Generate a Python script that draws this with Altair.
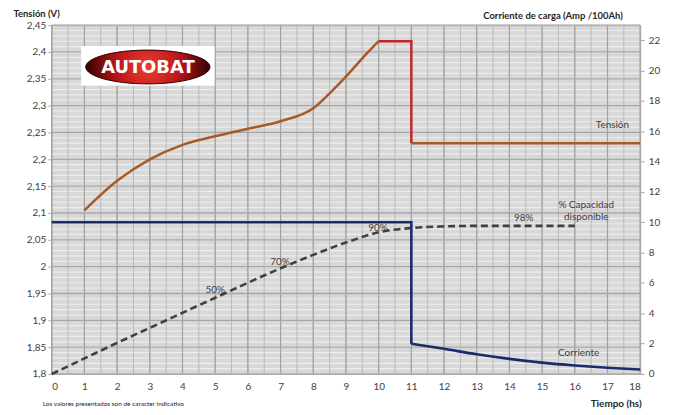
import altair as alt
import pandas as pd

# ---- data ----
hours_t = [1, 2, 3, 4, 5, 6, 7, 8, 8.5, 9, 9.5, 10]
tension = [2.105, 2.160, 2.200, 2.227, 2.243, 2.257, 2.271, 2.295, 2.323, 2.354, 2.388, 2.42]
hours_abs = [10, 11, 11]
tension_abs = [2.42, 2.42, 2.23]
hours_float = [11, 18]
tension_float = [2.23, 2.23]

hours_cur = [0, 11, 11]
current_const = [10, 10, 2.0]
hours_dec = [11, 12, 13, 14, 15, 16, 17, 18]
current_dec = [2.0, 1.66, 1.30, 1.00, 0.75, 0.56, 0.41, 0.30]

hours_cap = [0, 1, 2, 3, 4, 5, 6, 7, 8, 9, 10, 11, 12, 13, 16]
capacity_v = [1.800, 1.829, 1.858, 1.886, 1.914, 1.942, 1.970, 1.997, 2.022,
              2.045, 2.064, 2.072, 2.075, 2.076, 2.076]

cap_labels = ["50%", "70%", "90%", "98%", "% Capacidad", "disponible", "Tensión"]
cap_label_h = [5.0, 6.98, 9.98, 14.44, 16.35, 16.35, 17.15]
cap_label_v = [1.956, 2.009, 2.072, 2.091, 2.115, 2.092, 2.263]

cur_labels = ["Corriente"]
cur_label_h = [16.12]
cur_label_i = [1.36]

x_ticks = list(range(0, 19))
v_major = [round(1.8 + 0.05 * k, 2) for k in range(14)]
v_minor = [round(1.8 + 0.01 * k, 2) for k in range(66)]
i_ticks = list(range(0, 23, 2))
h_half = [k * 0.5 for k in range(37)]
h_int = list(range(0, 19))

logo_text = ["AUTOBAT"]
logo_box_h = [0.90, 4.98]
logo_box_v = [2.337, 2.411]
logo_center = [2.94, 2.372]

note_text = ["Los valores presentados son de caracter indicativo"]

# ---- scales / axes ----
xscale = alt.Scale(domain=[0, 18], nice=False, zero=False)
vscale = alt.Scale(domain=[1.8, 2.45], nice=False, zero=False)
iscale = alt.Scale(domain=[0, 23], nice=False, zero=False)

xaxis = alt.Axis(values=x_ticks, grid=False, ticks=False, domain=False,
                 labelPadding=8, labelFontSize=10, labelColor="#404040",
                 title="Tiempo (hs)", titleFontSize=10, titleFontWeight="bold",
                 titleColor="#262626", titleAlign="right", titleX=593, titleY=30,
                 titleBaseline="middle")
vaxis = alt.Axis(values=v_major, grid=False, domain=False, tickSize=4,
                 tickColor="#a6a6a6", labelPadding=2, labelFontSize=10,
                 labelColor="#404040",
                 labelExpr="replace(format(datum.value, '.2~f'), '.', ',')",
                 title="Tensión (V)", titleAngle=0, titleAlign="left",
                 titleBaseline="alphabetic", titleX=-39, titleY=-8.5,
                 titleFontSize=9.5, titleFontWeight="bold", titleColor="#262626")
iaxis = alt.Axis(values=i_ticks, orient="right", grid=False, domain=False,
                 tickSize=4, tickColor="#a6a6a6", labelPadding=4,
                 labelFontSize=10, labelColor="#404040",
                 title="Corriente de carga (Amp /100Ah)", titleAngle=0,
                 titleAlign="right", titleBaseline="alphabetic", titleX=-18,
                 titleY=-7, titleFontSize=9.5, titleFontWeight="bold",
                 titleColor="#262626")

X = alt.X("h:Q", scale=xscale, axis=xaxis)
Y = alt.Y("v:Q", scale=vscale, axis=vaxis)
YI = alt.Y("i:Q", scale=iscale, axis=iaxis)

# ---- grid ----
minor_grid = alt.Chart(pd.DataFrame({"v": v_minor})).mark_rule(
    color="#ededed", strokeWidth=1.2).encode(y=Y)
half_grid = alt.Chart(pd.DataFrame({"h": h_half})).mark_rule(
    color="#b9b9b9", strokeWidth=1).encode(x=X)
int_grid = alt.Chart(pd.DataFrame({"h": h_int})).mark_rule(
    color="#a2a2a2", strokeWidth=1.2).encode(x=X)
major_grid = alt.Chart(pd.DataFrame({"v": v_major})).mark_rule(
    color="#a6a6a6", strokeWidth=1.3).encode(y=Y)

# ---- logo ----
logo_box = alt.Chart(pd.DataFrame({"h": [logo_box_h[0]], "h2": [logo_box_h[1]],
                                   "v": [logo_box_v[0]], "v2": [logo_box_v[1]]})
                     ).mark_rect(color="white").encode(
    x=X, x2="h2:Q", y=Y, y2="v2:Q")
ellipse_path = "M -1,0 A 1,0.272 0 1,1 1,0 A 1,0.272 0 1,1 -1,0 Z"
logo_ellipse = alt.Chart(pd.DataFrame({"h": [logo_center[0]], "v": [logo_center[1]]})
                         ).mark_point(
    shape=ellipse_path, size=15625, filled=True, opacity=1,
    fill={"gradient": "radial",
          "stops": [{"offset": 0, "color": "#e8402f"},
                    {"offset": 0.5, "color": "#bf1619"},
                    {"offset": 0.8, "color": "#6e080a"},
                    {"offset": 1, "color": "#300303"}]},
    stroke="#300303", strokeWidth=1).encode(x=X, y=Y)
logo_txt = alt.Chart(pd.DataFrame({"h": [logo_center[0]], "v": [logo_center[1]],
                                   "t": logo_text})).mark_text(
    font="DejaVu Sans", fontWeight="bold", fontSize=18, color="white",
    baseline="middle", align="center", dy=1).encode(x=X, y=Y, text="t:N")

# ---- series ----
cap_line = alt.Chart(pd.DataFrame({"h": hours_cap, "v": capacity_v})).mark_line(
    color="#404040", strokeWidth=2.6, strokeDash=[7, 4],
    interpolate="monotone").encode(x=X, y=Y)
t_line = alt.Chart(pd.DataFrame({"h": hours_t, "v": tension})).mark_line(
    color="#a85a24", strokeWidth=2.5, interpolate="monotone").encode(x=X, y=Y)
t_abs = alt.Chart(pd.DataFrame({"h": hours_abs, "v": tension_abs,
                                "o": list(range(len(hours_abs)))})).mark_line(
    color="#c0262d", strokeWidth=2.5).encode(x=X, y=Y, order="o:Q")
t_float = alt.Chart(pd.DataFrame({"h": hours_float, "v": tension_float})).mark_line(
    color="#a85a24", strokeWidth=2.5).encode(x=X, y=Y)

labels = alt.Chart(pd.DataFrame({"h": cap_label_h, "v": cap_label_v,
                                 "t": cap_labels})).mark_text(
    fontSize=10, color="#404040", baseline="middle", align="center").encode(
    x=X, y=Y, text="t:N")

note = alt.Chart(pd.DataFrame({"t": note_text})).mark_text(
    fontSize=6.5, color="#262626", align="left", baseline="middle").encode(
    x=alt.value(-9), y=alt.value(381), text="t:N")

group_v = alt.layer(minor_grid, half_grid, int_grid, major_grid, logo_box,
                    logo_ellipse, logo_txt, cap_line, t_line, t_abs, t_float,
                    labels, note)

c_const = alt.Chart(pd.DataFrame({"h": hours_cur, "i": current_const,
                                  "o": list(range(len(hours_cur)))})).mark_line(
    color="#1b2a6b", strokeWidth=2.6).encode(x=X, y=YI, order="o:Q")
c_dec = alt.Chart(pd.DataFrame({"h": hours_dec, "i": current_dec})).mark_line(
    color="#1b2a6b", strokeWidth=2.6, interpolate="monotone").encode(x=X, y=YI)
c_label = alt.Chart(pd.DataFrame({"h": cur_label_h, "i": cur_label_i,
                                  "t": cur_labels})).mark_text(
    fontSize=10, color="#404040", baseline="middle", align="center").encode(
    x=X, y=YI, text="t:N")

group_i = alt.layer(c_const, c_dec, c_label)

chart = alt.layer(group_v, group_i).resolve_scale(y="independent").properties(
    width=592, height=351,
    padding={"left": 44, "top": 16, "right": 30, "bottom": 40},
    autosize=alt.AutoSizeParams(type="none"),
    background="white",
).configure(font="Lato").configure_view(fill="#d8d8d8", stroke="#a6a6a6")

chart.save("out.html", embed_options={"renderer": "svg", "actions": False})
